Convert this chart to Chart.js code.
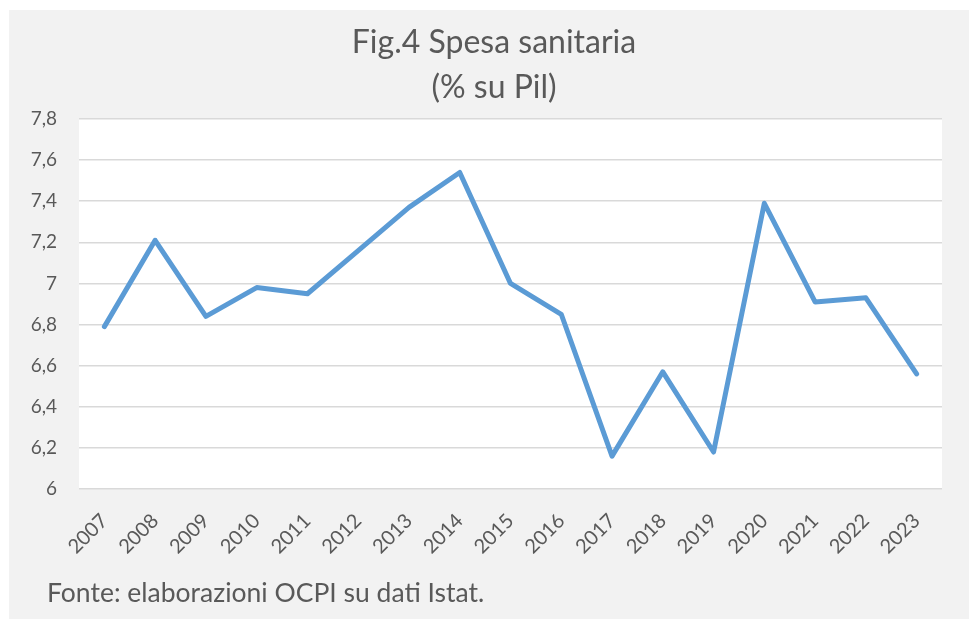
<!DOCTYPE html>
<html>
<head>
<meta charset="utf-8">
<script src="https://cdn.jsdelivr.net/npm/chart.js@4/dist/chart.umd.min.js"></script>
<style>
  html, body { margin: 0; padding: 0; background: #ffffff; }
  #box { position: absolute; left: 9px; top: 10px; width: 960px; height: 609px; background: #f2f2f2; }
  canvas { display: block; }
</style>
</head>
<body>
<div id="box"><canvas id="c" width="960" height="609"></canvas></div>
<script>
const years = ['2007','2008','2009','2010','2011','2012','2013','2014','2015','2016','2017','2018','2019','2020','2021','2022','2023'];
const spesa = [6.79, 7.21, 6.84, 6.98, 6.95, 7.16, 7.37, 7.54, 7.00, 6.85, 6.16, 6.57, 6.18, 7.39, 6.91, 6.93, 6.56];
const yMin = 6, yMax = 7.8, yStep = 0.2;
const titleText = 'Fig.4 Spesa sanitaria';
const subtitleText = '(% su Pil)';
const sourceText = 'Fonte: elaborazioni OCPI su dati Istat.';

const FONT = 'Lato, "Open Sans", sans-serif';
const TXT = '#595959';

const decor = {
  id: 'decor',
  beforeDraw(chart) {
    const { ctx, chartArea: a } = chart;
    ctx.save();
    ctx.fillStyle = '#ffffff';
    ctx.fillRect(a.left, a.top, a.right - a.left, a.bottom - a.top);
    ctx.restore();
  },
  afterDraw(chart) {
    const ctx = chart.ctx;
    ctx.save();
    ctx.fillStyle = TXT;
    ctx.textAlign = 'center';
    ctx.textBaseline = 'alphabetic';
    ctx.font = '400 32px ' + FONT;
    ctx.fillText(titleText, 485, 43);
    ctx.fillText(subtitleText, 485, 88);
    ctx.textAlign = 'left';
    ctx.font = '400 26.5px ' + FONT;
    ctx.fillText(sourceText, 38, 592);
    ctx.restore();
  }
};

new Chart(document.getElementById('c'), {
  type: 'line',
  data: {
    labels: years,
    datasets: [{
      data: spesa,
      borderColor: '#5b9bd5',
      borderWidth: 5,
      pointRadius: 0,
      pointHoverRadius: 0,
      tension: 0,
      fill: false,
      borderJoinStyle: 'round',
      borderCapStyle: 'round'
    }]
  },
  options: {
    responsive: false,
    animation: false,
    events: [],
    layout: { padding: { top: 109, right: 27, bottom: 0, left: 0 } },
    plugins: { legend: { display: false }, title: { display: false }, tooltip: { enabled: false } },
    scales: {
      x: {
        offset: true,
        grid: { display: false, drawTicks: false },
        border: { display: false },
        ticks: {
          color: TXT,
          font: { family: FONT, size: 20, weight: '400' },
          minRotation: 45,
          maxRotation: 45,
          padding: 20,
          autoSkip: false
        },
        afterFit(s) { s.height = 130; }
      },
      y: {
        min: yMin,
        max: yMax,
        grid: { color: '#d9d9d9', lineWidth: 1.5, drawTicks: false },
        border: { display: false },
        ticks: {
          stepSize: yStep,
          color: TXT,
          font: { family: FONT, size: 19, weight: '400' },
          padding: 22,
          callback: v => String(Number(v.toFixed(1))).replace('.', ',')
        },
        afterFit(s) { s.width = 70; }
      }
    }
  },
  plugins: [decor]
});
</script>
</body>
</html>
